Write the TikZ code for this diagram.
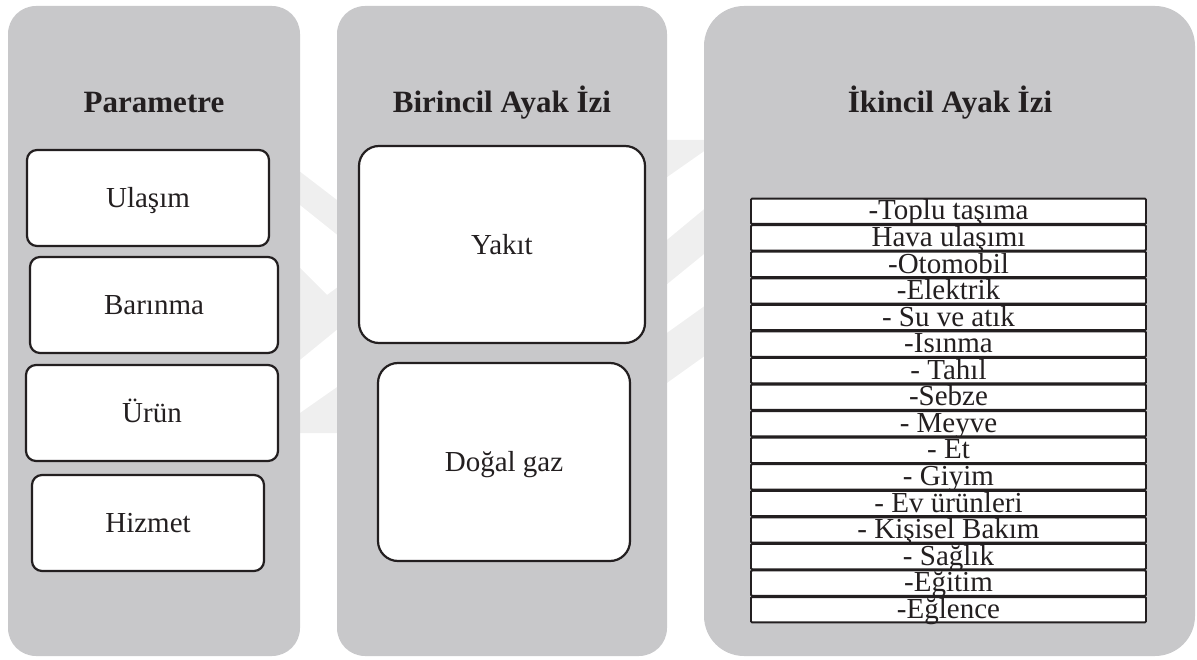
\documentclass[tikz,border=0pt]{standalone}
\usepackage{fontspec}
\setmainfont{Liberation Serif}
\definecolor{panelgray}{HTML}{C8C8CA}
\definecolor{ink}{HTML}{231F20}
\definecolor{markgray}{HTML}{EFEFEF}

\begin{document}
\begin{tikzpicture}[x=1pt,y=-1pt,
  panel/.style={fill=panelgray, draw=none, inner sep=0pt},
  heading/.style={font=\fontsize{31}{34}\selectfont\bfseries, text=ink,
    text height=20.5pt, text depth=0pt, inner sep=0pt},
  itembox/.style={draw=ink, fill=white, line width=2.2pt, rounded corners=10pt,
    text=ink, font=\fontsize{29}{32}\selectfont, inner sep=0pt,
    text height=19.2pt, text depth=0pt},
  fuelbox/.style={itembox, rounded corners=20pt},
  listrow/.style={draw=ink, fill=white, line width=1.9pt, rounded corners=1pt,
    minimum width=395pt, minimum height=25.3pt, inner sep=0pt, text=ink,
    font=\fontsize{29}{29}\selectfont, text height=19.2pt, text depth=0pt},
  wmark/.style={fill=markgray, draw=none}]
\useasboundingbox (0,0) rectangle (1197,660);

% faint watermark bands behind the columns
\fill[wmark] (200,95) -- (350,210) -- (350,245) -- (200,125) -- cycle;
\fill[wmark] (290,258) -- (327,295) -- (350,278) -- (350,319) -- (290,368) -- cycle;
\fill[wmark] (290,435) -- (290,420) -- (350,378) -- (350,433) -- (290,433) -- cycle;
\fill[wmark] (650,140) -- (720,140) -- (650,189) -- cycle;
\fill[wmark] (650,254) -- (720,196) -- (720,241) -- (650,298) -- cycle;
\fill[wmark] (650,345) -- (720,295) -- (720,345) -- (650,395) -- cycle;

% three columns
\node[panel, rounded corners=28pt, minimum width=292pt, minimum height=650pt] (colA) at (154,331) {};
\node[panel, rounded corners=28pt, minimum width=330pt, minimum height=650pt] (colB) at (502,331) {};
\node[panel, rounded corners=40pt, minimum width=491pt, minimum height=650pt] (colC) at (949.5,331) {};

% headings
\node[heading] (hA) at (154,102.3) {Parametre};
\node[heading] (hB) at (502,102.3) {Birincil Ayak İzi};
\node[heading] (hC) at (950,102.3) {İkincil Ayak İzi};

% parameter boxes
\node[itembox, minimum width=242pt, minimum height=96pt] (ulasim) at (148,198) {Ulaşım};
\node[itembox, minimum width=248pt, minimum height=96pt] (barinma) at (154,305) {Barınma};
\node[itembox, minimum width=252pt, minimum height=96pt] (urun) at (152,413) {Ürün};
\node[itembox, minimum width=232pt, minimum height=96pt] (hizmet) at (148,523) {Hizmet};

% primary footprint boxes
\node[fuelbox, minimum width=286pt, minimum height=197pt] (yakit) at (502,244.5) {Yakıt};
\node[fuelbox, minimum width=252pt, minimum height=198pt] (dogalgaz) at (504,462) {Doğal gaz};

% secondary footprint list
\foreach \txt [count=\i] in {-Toplu taşıma, Hava ulaşımı, -Otomobil, -Elektrik,
  - Su ve atık, -Isınma, - Tahıl, -Sebze, - Meyve, - Et, - Giyim,
  - Ev ürünleri, - Kişisel Bakım, - Sağlık, -Eğitim, -Eğlence}
  \node[listrow] (row\i) at (948.5,{198+26.5625*(\i-0.5)}) {\raisebox{1pt}{\txt}};
\end{tikzpicture}
\end{document}
